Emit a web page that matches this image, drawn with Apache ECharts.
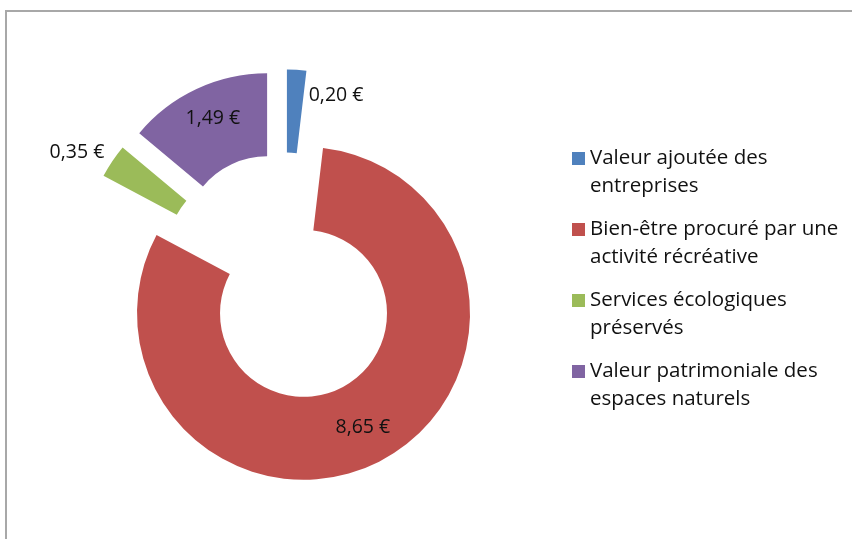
<!DOCTYPE html>
<html>
<head>
<meta charset="utf-8">
<script src="https://cdn.jsdelivr.net/npm/echarts@6/dist/echarts.min.js"></script>
<style>
html,body{margin:0;padding:0;background:#fff;}
#chart{width:852px;height:539px;}
</style>
</head>
<body>
<div id="chart"></div>
<script>
const categories = [
  "Valeur ajoutée des\nentreprises",
  "Bien-être procuré par une\nactivité récréative",
  "Services écologiques\npréservés",
  "Valeur patrimoniale des\nespaces naturels"
];
const values = [0.20, 8.65, 0.35, 1.49];
const colors = ["#4F81BD", "#C0504D", "#9BBB59", "#8064A2"];
const labelPositions = ["outside", "inside", "outside", "inside"];
const labelShift = [{dx: 7, dy: 26}, {dx: 0, dy: 1}, {dx: -3, dy: -9}, {dx: 0, dy: -6}];

const FONT = "Open Sans";
const fmt = v => v.toFixed(2).replace(".", ",") + " €";

const chart = echarts.init(document.getElementById("chart"), null, {renderer: "canvas"});
chart.setOption({
  animation: false,
  backgroundColor: "#fff",
  graphic: [{
    type: "rect",
    shape: {x: 6, y: 11, width: 900, height: 600},
    style: {fill: "none", stroke: "#a8a8a8", lineWidth: 2},
    silent: true,
    z: -10
  }],
  legend: {
    orient: "vertical",
    left: 572,
    top: 116.5,
    padding: 0,
    itemWidth: 13,
    itemHeight: 13,
    itemGap: -13,
    icon: "rect",
    selectedMode: false,
    formatter: name => "\n" + name,
    textStyle: {
      fontFamily: FONT,
      fontSize: 20.5,
      color: "#111",
      lineHeight: 28
    },
    data: categories
  },
  series: [{
    type: "pie",
    center: [284.5, 277],
    radius: [83.5, 166.5],
    startAngle: 90,
    clockwise: true,
    selectedMode: "multiple",
    selectedOffset: 41,
    avoidLabelOverlap: false,
    emphasis: {disabled: true},
    labelLine: {show: false, length: 0, length2: 0},
    labelLayout: function (p) { return labelShift[p.dataIndex]; },
    data: categories.map((c, i) => ({
      name: c,
      value: values[i],
      selected: true,
      itemStyle: {color: colors[i]},
      label: {
        show: true,
        position: labelPositions[i],
        formatter: p => fmt(p.value),
        fontFamily: FONT,
        fontSize: 19.5,
        color: "#111",
        distanceToLabelLine: 5
      }
    }))
  }]
});
</script>
</body>
</html>
